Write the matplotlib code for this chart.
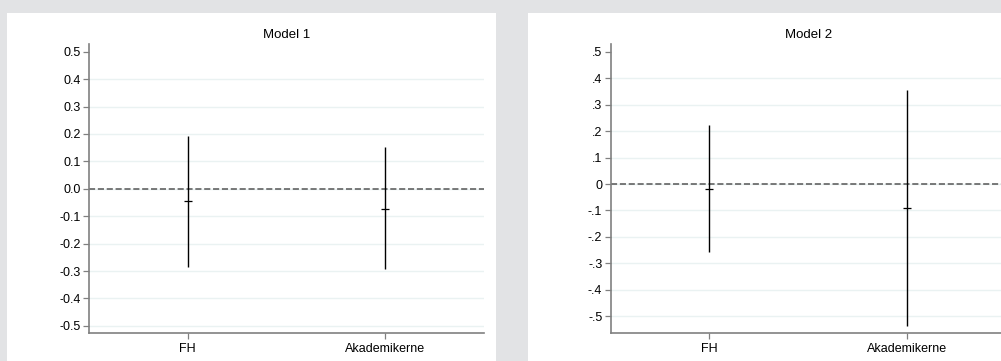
import numpy as np
import matplotlib.pyplot as plt
from matplotlib.patches import Rectangle

plt.rcParams['font.family'] = ['Liberation Sans', 'DejaVu Sans']

categories = ['FH', 'Akademikerne']
titles = ['Model 1', 'Model 2']

# point estimates with lower/upper confidence bounds
m1_est = [-0.046, -0.072]
m1_lo = [-0.285, -0.294]
m1_hi = [0.191, 0.153]

m2_est = [-0.018, -0.091]
m2_lo = [-0.258, -0.537]
m2_hi = [0.222, 0.355]

yticks = [0.5, 0.4, 0.3, 0.2, 0.1, 0.0, -0.1, -0.2, -0.3, -0.4, -0.5]
m1_ticklabels = ['0.5', '0.4', '0.3', '0.2', '0.1', '0.0', '-0.1', '-0.2', '-0.3', '-0.4', '-0.5']
m2_ticklabels = ['.5', '.4', '.3', '.2', '.1', '0', '-.1', '-.2', '-.3', '-.4', '-.5']

W, H = 1001, 361
fig = plt.figure(figsize=(W / 100, H / 100), dpi=100, facecolor='#e2e3e5')

# white plot regions behind the axes
fig.patches.append(Rectangle((7 / W, 0), 489 / W, (H - 13) / H, transform=fig.transFigure,
                             facecolor='white', edgecolor='none', zorder=-10))
fig.patches.append(Rectangle((528 / W, 0), 480 / W, (H - 13) / H, transform=fig.transFigure,
                             facecolor='white', edgecolor='none', zorder=-10))

ax1 = fig.add_axes([89 / W, 28 / H, 395 / W, 289 / H])
ax2 = fig.add_axes([610.7 / W, 28 / H, 395 / W, 289 / H])

panels = [
    (ax1, m1_est, m1_lo, m1_hi, m1_ticklabels, (-0.526, 0.528)),
    (ax2, m2_est, m2_lo, m2_hi, m2_ticklabels, (-0.563, 0.529)),
]

x = np.arange(1, len(categories) + 1)
spine_col = '#808080'

for (ax, est, lo, hi, tlabels, ylim), title in zip(panels, titles):
    ax.set_facecolor('none')
    est = np.array(est)
    yerr = [est - np.array(lo), np.array(hi) - est]
    for yt in yticks[1:]:
        ax.axhline(yt, color='#eaf2f2', lw=1.0, zorder=1)
    ax.axhline(0, color='#555555', lw=1.1, dashes=(4, 1.8), zorder=2)
    ax.errorbar(x, est, yerr=yerr, fmt='_', color='black', ecolor='black',
                elinewidth=1.0, markersize=6, markeredgewidth=0.9, capsize=0, zorder=3)
    ax.set_xlim(0.5, 2.5)
    ax.set_ylim(*ylim)
    ax.set_xticks(x)
    ax.set_xticklabels(categories, fontsize=9)
    ax.set_yticks(yticks)
    ax.set_yticklabels(tlabels, fontsize=9)
    ax.set_title(title, fontsize=9.5, pad=4)
    for s in ['top', 'right']:
        ax.spines[s].set_visible(False)
    for s in ['left', 'bottom']:
        ax.spines[s].set_color(spine_col)
        ax.spines[s].set_linewidth(1.2)
    ax.tick_params(axis='both', colors=spine_col, labelcolor='black', length=4, width=0.9, pad=2)
    ax.tick_params(axis='x', pad=3)

plt.savefig('out.png', dpi=100, facecolor=fig.get_facecolor())
